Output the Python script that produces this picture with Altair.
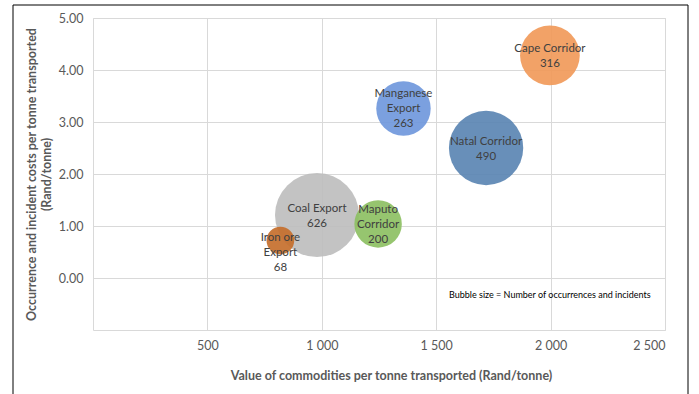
import altair as alt
import pandas as pd

names = ["Cape Corridor", "Manganese Export", "Natal Corridor", "Coal Export", "Maputo Corridor", "Iron ore Export"]
labels = ["Cape Corridor\n316", "Manganese\nExport\n263", "Natal Corridor\n490", "Coal Export\n626", "Maputo\nCorridor\n200", "Iron ore\nExport\n68"]
commodity_value = [1997, 1357, 1718, 979, 1246, 819]
incident_cost = [4.28, 3.26, 2.50, 1.21, 1.04, 0.72]
occurrences = [316, 263, 490, 626, 200, 68]
colors = ["#F19A5A", "#7098DC", "#5B86B3", "#BEBEBE", "#8DC063", "#C66F2D"]
x_ticks = [500, 1000, 1500, 2000, 2500]
y_ticks = [0, 1, 2, 3, 4, 5]
note = "Bubble size = Number of occurrences and incidents"

df = pd.DataFrame({
    "name": names,
    "label": labels,
    "value": commodity_value,
    "cost": incident_cost,
    "count": occurrences,
    "idx": list(range(len(names))),
})

FONT = "Lato"

x_enc = alt.X(
    "value:Q",
    scale=alt.Scale(domain=[0, 2500], nice=False, zero=False),
    axis=alt.Axis(
        values=x_ticks,
        labelExpr="replace(format(datum.value, ','), ',', ' ')",
        title="Value of commodities per tonne transported (Rand/tonne)",
        labelPadding=9,
        titlePadding=18,
        titleX=298,
    ),
)
y_enc = alt.Y(
    "cost:Q",
    scale=alt.Scale(domain=[-1, 5], nice=False, zero=False),
    axis=alt.Axis(
        values=y_ticks,
        format=".2f",
        title=["Occurrence and incident costs per tonne transported", "(Rand/tonne)"],
        labelPadding=10,
        titlePadding=5,
        titleLineHeight=15,
    ),
)

base = alt.Chart(df)

frame = alt.Chart(pd.DataFrame({"a": [0]})).mark_rect(
    fill="white", fillOpacity=0, stroke="#000000", strokeWidth=1
).encode(
    x=alt.value(-80), x2=alt.value(595), y=alt.value(-13), y2=alt.value(400)
)

bubbles = base.mark_circle(opacity=0.92).encode(
    x=x_enc,
    y=y_enc,
    size=alt.Size("count:Q", scale=alt.Scale(domain=[0, 700], range=[0, 7890]), legend=None),
    color=alt.Color("name:N", scale=alt.Scale(domain=names, range=colors), legend=None),
    order=alt.Order("idx:Q"),
)


def label_layer(selected, dy):
    return base.transform_filter(
        alt.FieldOneOfPredicate(field="name", oneOf=selected)
    ).mark_text(
        lineBreak="\n", fontSize=11.5, font=FONT, color="#404040", lineHeight=15,
        baseline="middle", dy=dy
    ).encode(x="value:Q", y="cost:Q", text="label:N")


text_two = label_layer(["Cape Corridor", "Natal Corridor", "Coal Export"], -6)
text_three = label_layer(["Manganese Export", "Maputo Corridor"], -14)
text_iron = label_layer(["Iron ore Export"], -3)

annot = alt.Chart(pd.DataFrame({"t": [note]})).mark_text(
    align="left", baseline="middle", fontSize=9, font=FONT, color="#000000"
).encode(x=alt.value(356), y=alt.value(277), text="t:N")

chart = alt.layer(frame, bubbles, text_two, text_three, text_iron, annot).properties(
    width=572,
    height=312,
    autosize=alt.AutoSizeParams(type="none"),
    padding={"left": 93, "top": 18, "right": 34, "bottom": 64},
    background="white",
).configure_view(
    stroke="#D9D9D9"
).configure_axis(
    grid=True,
    gridColor="#D9D9D9",
    domain=False,
    ticks=False,
    labelFont=FONT,
    labelFontSize=12.5,
    labelColor="#595959",
    titleFont=FONT,
    titleFontSize=12.5,
    titleFontWeight="bold",
    titleColor="#595959",
)

chart.save("out.html", embed_options={"renderer": "svg", "actions": False})
